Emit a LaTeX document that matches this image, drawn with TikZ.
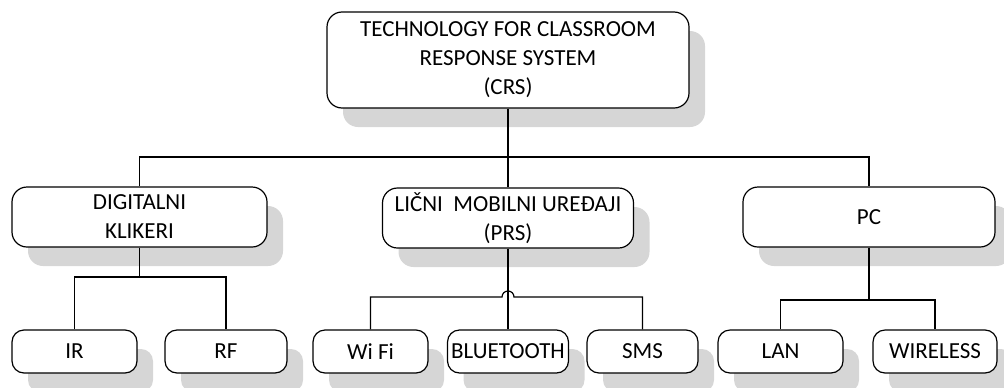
\documentclass[tikz,border=0pt]{standalone}
\usepackage{fontspec}
\setmainfont{Carlito}
\usetikzlibrary{shadows}

\begin{document}
\begin{tikzpicture}[x=0.5pt,y=0.5pt,
  box/.style={draw,line width=0.6pt,rounded corners=7.5pt,fill=white,align=center,inner sep=0pt,
    drop shadow={shadow xshift=8pt,shadow yshift=-9.5pt,fill=black!16,opacity=1},
    font=\fontsize{11.5}{14.5}\selectfont},
  midbox/.style={box,minimum height=30pt},
  leaf/.style={box,minimum height=21.5pt,rounded corners=6pt},
  conn/.style={line width=0.6pt}]
\useasboundingbox (0,0) rectangle (1004,387);

% root
\node[box,minimum width=181pt,minimum height=48pt] (crs) at (508,327) {TECHNOLOGY FOR CLASSROOM\\RESPONSE SYSTEM\\(CRS)};

% second level
\node[midbox,minimum width=127.5pt] (klik) at (139.5,170) {DIGITALNI\\KLIKERI};
\node[midbox,minimum width=125.5pt] (mob) at (508,169) {LIČNI\ \ MOBILNI UREĐAJI\\(PRS)};
\node[midbox,minimum width=126pt] (pc) at (869,170) {PC};

% leaves
\node[leaf,minimum width=62.5pt] (ir) at (74.5,35.5) {IR};
\node[leaf,minimum width=61pt] (rf) at (226,35.5) {RF};
\node[leaf,minimum width=57.5pt] (wifi) at (370.5,35.5) {Wi Fi};
\node[leaf,minimum width=60.5pt] (bt) at (508,35.5) {BLUETOOTH};
\node[leaf,minimum width=55.5pt] (sms) at (642.5,35.5) {SMS};
\node[leaf,minimum width=62.5pt] (lan) at (780.5,35.5) {LAN};
\node[leaf,minimum width=62pt] (wless) at (935,35.5) {WIRELESS};

% connectors
\coordinate (bus) at (508,230);
\draw[conn] (crs.south) -- (bus);
\draw[conn] (klik.north) |- (bus) -| (pc.north);
\draw[conn] (bus) -- (mob.north);

\coordinate (kbus) at (139.5,110);
\draw[conn] (klik.south) -- (kbus);
\draw[conn] (ir.north) |- (kbus) -| (rf.north);

\coordinate (mbus) at (508,90);
\draw[conn] (mob.south) -- (bt.north);
\draw[conn] (wifi.north) |- ([xshift=-3pt]mbus) arc[start angle=180,end angle=0,radius=3pt] -| (sms.north);

\coordinate (pbus) at (869,87);
\draw[conn] (pc.south) -- (pbus);
\draw[conn] (lan.north) |- (pbus) -| (wless.north);

\end{tikzpicture}
\end{document}
